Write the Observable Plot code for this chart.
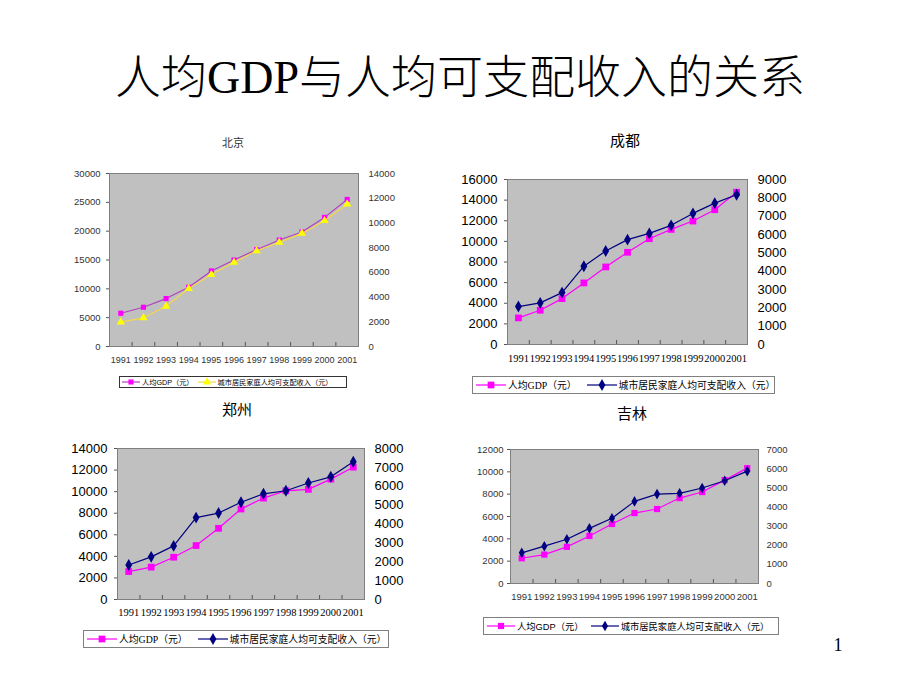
<!DOCTYPE html>
<html><head><meta charset="utf-8">
<script src="https://cdn.jsdelivr.net/npm/d3@7"></script>
<script src="https://cdn.jsdelivr.net/npm/@observablehq/plot@0.6"></script>
<style>
html,body{margin:0;padding:0;background:#fff;}
#page{position:relative;width:920px;height:690px;overflow:hidden;background:#fff;}
.abs{position:absolute;}
.title{font-size:46px;line-height:46px;text-align:center;color:#000;white-space:nowrap;font-weight:300;}
.ctitle{font-family:"Liberation Serif","Noto Sans CJK SC",serif;text-align:center;white-space:nowrap;}
.legend{box-sizing:border-box;border:1px solid #808080;background:#fff;display:flex;align-items:center;white-space:nowrap;overflow:visible;}
.legend svg{display:block;flex:none;}
</style></head>
<body><div id="page"></div>
<script>
// ---------- data ----------
const years = [1991,1992,1993,1994,1995,1996,1997,1998,1999,2000,2001];

const bjGdp    = [5770, 6810, 8310, 10270, 13100, 15000, 16790, 18460, 19850, 22390, 25500];
const bjIncome = [1970, 2320, 3260, 4690, 5820, 6810, 7750, 8430, 9150, 10180, 11520];
const bjLeftTicks  = [0,5000,10000,15000,20000,25000,30000];
const bjRightTicks = [0,2000,4000,6000,8000,10000,12000,14000];

const cdGdp    = [2580, 3320, 4450, 5970, 7520, 8940, 10260, 11160, 11970, 13070, 14770];
const cdIncome = [2070, 2270, 2830, 4270, 5100, 5720, 6060, 6500, 7150, 7710, 8170];
const cdLeftTicks  = [0,2000,4000,6000,8000,10000,12000,14000,16000];
const cdRightTicks = [0,1000,2000,3000,4000,5000,6000,7000,8000,9000];

const zzGdp    = [2590, 3000, 3920, 5000, 6600, 8390, 9400, 10080, 10210, 11160, 12270];
const zzIncome = [1830, 2260, 2840, 4340, 4580, 5150, 5600, 5760, 6170, 6500, 7300];
const zzLeftTicks  = [0,2000,4000,6000,8000,10000,12000,14000];
const zzRightTicks = [0,1000,2000,3000,4000,5000,6000,7000,8000];

const jlGdp    = [2260, 2590, 3280, 4260, 5330, 6310, 6670, 7650, 8190, 9260, 10330];
const jlIncome = [1600, 1950, 2310, 2880, 3410, 4290, 4670, 4710, 4990, 5370, 5870];
const jlLeftTicks  = [0,2000,4000,6000,8000,10000,12000];
const jlRightTicks = [0,1000,2000,3000,4000,5000,6000,7000];

const mainTitle = "人均GDP与人均可支配收入的关系";
const gdpLabel = "人均GDP（元）";
const incLabel = "城市居民家庭人均可支配收入（元）";

// ---------- helpers ----------
const page = document.getElementById("page");
function addDiv(cls, text, css){
  const d = document.createElement("div");
  d.className = "abs " + cls;
  d.textContent = text;
  Object.assign(d.style, css);
  page.appendChild(d);
  return d;
}

function chart(c){
  const mL=60, mR=50, mT=10, mB=30;
  const [x1,y1,x2,y2] = c.frame;
  const fh = y2 - y1;
  const leftMax = d3.max(c.leftTicks), rightMax = d3.max(c.rightTicks);
  const k = leftMax / rightMax;
  const rows = years.map((yr,i)=>({year:yr, gdp:c.gdp[i], inc:c.income[i]*k}));
  const bounds = years.slice(0,-1).map(y=>y+0.5);
  const svg = Plot.plot({
    width: x2-x1+mL+mR, height: fh+mT+mB,
    marginLeft:mL, marginRight:mR, marginTop:mT, marginBottom:mB,
    x:{domain:[1990.5,2001.5], label:null},
    y:{domain:[0,leftMax], label:null},
    style:{background:"transparent", fontFamily:c.tickFont, fontSize:c.tickSize+"px", color:c.textColor, overflow:"visible"},
    marks:[
      Plot.frame({fill:"#c0c0c0", stroke:"#808080"}),
      Plot.tickX(bounds, {x:d=>d, stroke:"#555", insetTop:fh-4}),
      Plot.axisY({ticks:c.leftTicks, tickFormat:d3.format("d"), tickSize:3, tickPadding:c.lPad, stroke:"#555", label:null}),
      Plot.axisY({anchor:"right", ticks:c.rightTicks.map(t=>t*k), tickFormat:d=>d3.format("d")(Math.round(d/k)), tickSize:0, tickPadding:c.rPad, label:null}),
      Plot.axisX({ticks:years, tickFormat:d=>String(d), tickSize:0, tickPadding:c.xPad, fontFamily:c.xFont, fontSize:c.xSize, label:null}),
      Plot.line(rows,{x:"year", y:"gdp", stroke:c.gdpLine, strokeWidth:1.2}),
      Plot.dot(rows,{x:"year", y:"gdp", symbol:"square", r:c.r1, fill:c.gdpColor}),
      Plot.line(rows,{x:"year", y:"inc", stroke:c.incLine, strokeWidth:1.2}),
      Plot.dot(rows,{x:"year", y:"inc", symbol:c.incSymbol, r:c.r2, fill:c.incColor})
    ]
  });
  svg.style.position = "absolute";
  svg.style.left = (x1-mL)+"px";
  svg.style.top = (y1-mT)+"px";
  page.appendChild(svg);

  // chart title
  addDiv("ctitle", c.title, {left:(c.titlePos[0]-60)+"px", width:"120px", top:(c.titlePos[1]-c.titleSize/2)+"px",
    fontSize:c.titleSize+"px", lineHeight:c.titleSize+"px", color:c.titleColor, fontFamily:c.titleFont});

  // legend
  const [lx,ly,lw,lh] = c.legend;
  const lg = document.createElement("div");
  lg.className = "abs legend";
  Object.assign(lg.style,{left:lx+"px", top:ly+"px", width:lw+"px", height:lh+"px",
    fontFamily:c.legendFont, fontSize:c.legendSize+"px", paddingLeft:c.legPad+"px", borderColor:c.legendBorder});
  const items = [[gdpLabel, c.gdpLine, c.gdpColor, "square", c.r1],[incLabel, c.incLine, c.incColor, c.incSymbol, c.r2]];
  items.forEach(([label, lc, mc, sym, r], i)=>{
    const sw = c.swatch;
    const s = d3.create("svg").attr("width", sw).attr("height", lh-2);
    s.append("line").attr("x1",0).attr("x2",sw).attr("y1",(lh-2)/2).attr("y2",(lh-2)/2).attr("stroke",lc).attr("stroke-width",1.2);
    const symbol = sym==="square" ? d3.symbolSquare : sym==="triangle" ? d3.symbolTriangle : d3.symbolDiamond;
    s.append("path").attr("d", d3.symbol(symbol, Math.PI*r*r)()).attr("transform",`translate(${sw/2},${(lh-2)/2})`).attr("fill",mc);
    const sn = s.node(); sn.style.marginLeft = (i===0?0:c.legGap)+"px";
    lg.appendChild(sn);
    const t = document.createElement("span");
    t.textContent = label; t.style.marginLeft = "2px";
    lg.appendChild(t);
  });
  page.appendChild(lg);
}

// ---------- page ----------
addDiv("title", mainTitle, {left:"0px", width:"920px", top:"55px", fontFamily:'"Liberation Serif","Noto Sans CJK SC",serif'});
addDiv("ctitle", "1", {left:"820px", width:"36px", top:"636px", fontSize:"18px", lineHeight:"18px"});

const magenta = "#ff00ff", navy = "#000080";
const serif = '"Liberation Serif","Noto Sans CJK SC",serif';
const sans = '"Liberation Sans","Noto Sans CJK SC",sans-serif';

chart({title:"北京", titlePos:[233,143], titleSize:11, titleColor:"#333", titleFont:sans,
  gdp:bjGdp, income:bjIncome, leftTicks:bjLeftTicks, rightTicks:bjRightTicks,
  frame:[109,173,358,346], tickFont:sans, tickSize:9.5, textColor:"#333", lPad:6, rPad:10,
  xFont:sans, xSize:9, xPad:10,
  gdpLine:"#b040c0", gdpColor:magenta, incLine:"#f2d84a", incColor:"#ffff00", incSymbol:"triangle", r1:2.9, r2:3.1,
  legend:[119,376,228,12], legendFont:sans, legendSize:7.2, legPad:2, swatch:18, legGap:4, legendBorder:"#333"});

chart({title:"成都", titlePos:[625,141], titleSize:15, titleColor:"#000", titleFont:serif,
  gdp:cdGdp, income:cdIncome, leftTicks:cdLeftTicks, rightTicks:cdRightTicks,
  frame:[507,179,747,344], tickFont:sans, tickSize:13, textColor:"#000", lPad:7, rPad:10,
  xFont:serif, xSize:10.5, xPad:10,
  gdpLine:magenta, gdpColor:magenta, incLine:navy, incColor:navy, incSymbol:"diamond", r1:3.8, r2:3.6,
  legend:[472,376,303,18], legendFont:serif, legendSize:9.8, legPad:3, swatch:30, legGap:10, legendBorder:"#808080"});

chart({title:"郑州", titlePos:[237,410], titleSize:15, titleColor:"#000", titleFont:serif,
  gdp:zzGdp, income:zzIncome, leftTicks:zzLeftTicks, rightTicks:zzRightTicks,
  frame:[117,448,364,599], tickFont:sans, tickSize:13, textColor:"#000", lPad:7, rPad:10,
  xFont:serif, xSize:10.5, xPad:9,
  gdpLine:magenta, gdpColor:magenta, incLine:navy, incColor:navy, incSymbol:"diamond", r1:3.8, r2:3.6,
  legend:[83,630,306,18], legendFont:serif, legendSize:9.8, legPad:3, swatch:30, legGap:10, legendBorder:"#808080"});

chart({title:"吉林", titlePos:[632,414], titleSize:15, titleColor:"#000", titleFont:serif,
  gdp:jlGdp, income:jlIncome, leftTicks:jlLeftTicks, rightTicks:jlRightTicks,
  frame:[510,449,758,583], tickFont:sans, tickSize:9.5, textColor:"#333", lPad:4, rPad:8,
  xFont:sans, xSize:9.5, xPad:10,
  gdpLine:magenta, gdpColor:magenta, incLine:navy, incColor:navy, incSymbol:"diamond", r1:3.5, r2:3.2,
  legend:[483,617,296,18], legendFont:sans, legendSize:9.3, legPad:3, swatch:28, legGap:7, legendBorder:"#808080"});
</script>
</body></html>
